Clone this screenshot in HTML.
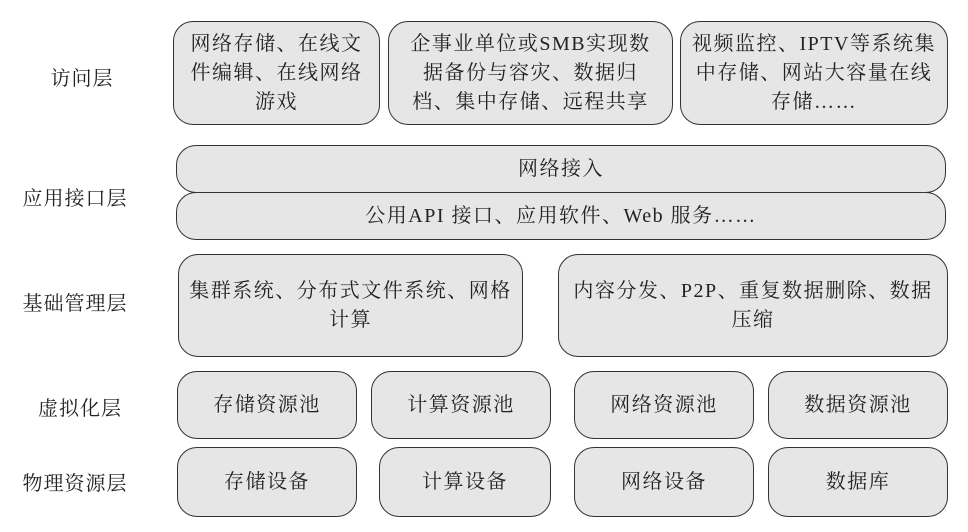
<!DOCTYPE html>
<html><head><meta charset="utf-8"><style>
body{margin:0;width:968px;height:532px;background:#fff;position:relative;overflow:hidden;font-family:"Liberation Serif","Noto Serif CJK SC",serif;color:#222;}
.b{position:absolute;box-sizing:border-box;background:#e6e6e6;border:1.5px solid #333;border-radius:20px;display:flex;align-items:center;justify-content:center;text-align:center;font-size:20px;line-height:29px;letter-spacing:1.5px;white-space:nowrap;}
.l{position:absolute;font-size:20px;width:150px;text-align:center;left:0;letter-spacing:1px;}
</style></head><body>
<div class="l" style="top:62px;left:7px">访问层</div>
<div class="l" style="top:182px">应用接口层</div>
<div class="l" style="top:287px">基础管理层</div>
<div class="l" style="top:392px;left:5px">虚拟化层</div>
<div class="l" style="top:467px">物理资源层</div>

<div class="b" style="left:173px;top:21px;width:207px;height:104px">网络存储、在线文<br>件编辑、在线网络<br>游戏</div>
<div class="b" style="left:388px;top:21px;width:285px;height:104px">企事业单位或SMB实现数<br>据备份与容灾、数据归<br>档、集中存储、远程共享</div>
<div class="b" style="left:680px;top:21px;width:268px;height:104px">视频监控、IPTV等系统集<br>中存储、网站大容量在线<br>存储……</div>

<div class="b" style="left:176px;top:145px;width:770px;height:48px">网络接入</div>
<div class="b" style="left:176px;top:192px;width:770px;height:48px">公用API 接口、应用软件、Web 服务……</div>

<div class="b" style="left:178px;top:254px;width:345px;height:103px">集群系统、分布式文件系统、网格<br>计算</div>
<div class="b" style="left:558px;top:254px;width:390px;height:103px">内容分发、P2P、重复数据删除、数据<br>压缩</div>

<div class="b" style="left:177px;top:371px;width:180px;height:68px">存储资源池</div>
<div class="b" style="left:371px;top:371px;width:180px;height:68px">计算资源池</div>
<div class="b" style="left:574px;top:371px;width:180px;height:68px">网络资源池</div>
<div class="b" style="left:768px;top:371px;width:180px;height:68px">数据资源池</div>

<div class="b" style="left:177px;top:447px;width:180px;height:70px">存储设备</div>
<div class="b" style="left:379px;top:447px;width:172px;height:70px">计算设备</div>
<div class="b" style="left:574px;top:447px;width:180px;height:70px">网络设备</div>
<div class="b" style="left:768px;top:447px;width:180px;height:70px">数据库</div>
</body></html>
